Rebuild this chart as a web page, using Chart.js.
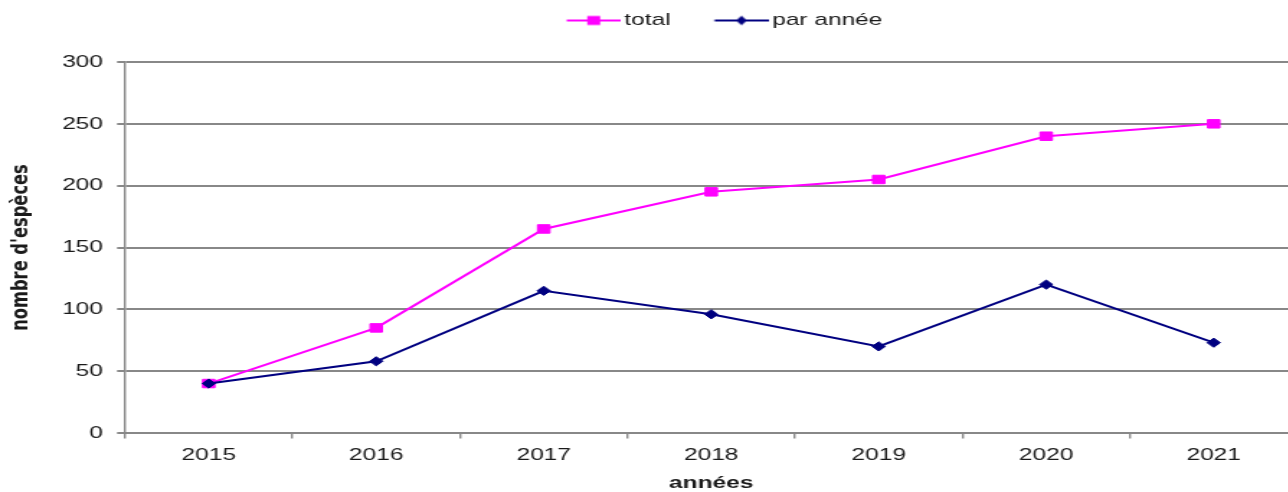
<!DOCTYPE html>
<html>
<head>
<meta charset="utf-8">
<script src="https://cdn.jsdelivr.net/npm/chart.js@4.4.0/dist/chart.umd.min.js"></script>
<style>
  html, body { margin: 0; padding: 0; background: #fff; overflow: hidden; }
  /* the source picture is stretched sideways, so the chart is drawn narrow and widened */
  #wrap { width: 901px; height: 492px; transform: scaleX(1.44); transform-origin: 0 0; }
</style>
</head>
<body>
<div id="wrap"><canvas id="myChart" width="901" height="492"></canvas></div>
<script>
var years = ['2015', '2016', '2017', '2018', '2019', '2020', '2021'];
var totalValues = [40, 85, 165, 195, 205, 240, 250];
var perYearValues = [40, 58, 115, 96, 70, 120, 73];
var yTicks = [0, 50, 100, 150, 200, 250, 300];

var seriesNames = ['total', 'par année'];
var seriesColors = ['#FF00FF', '#000080'];

var gray = '#888888';
var textColor = '#1a1a1a';
var family = "'Liberation Sans', Arial, sans-serif";

// legend sample: a short line with the marker in the middle
function legendIcon(color, shape) {
  var c = document.createElement('canvas');
  c.width = 62;
  c.height = 12;
  var g = c.getContext('2d');
  g.strokeStyle = color;
  g.lineWidth = 2;
  g.beginPath();
  g.moveTo(24.5, 6);
  g.lineTo(62, 6);
  g.stroke();
  g.fillStyle = color;
  var cx = 43.25, cy = 6;
  if (shape === 'square') {
    g.fillRect(cx - 4.5, cy - 4.5, 9, 9);
  } else {
    g.beginPath();
    g.moveTo(cx - 3.8, cy);
    g.lineTo(cx, cy - 4.8);
    g.lineTo(cx + 3.8, cy);
    g.lineTo(cx, cy + 4.8);
    g.closePath();
    g.fill();
  }
  return c;
}
var legendIcons = [legendIcon(seriesColors[0], 'square'), legendIcon(seriesColors[1], 'diamond')];

// give the legend the full band above the plot
var legendSpace = {
  id: 'legendSpace',
  beforeInit: function (chart) {
    var fit = chart.legend.fit;
    chart.legend.fit = function () {
      fit.call(this);
      this.height = 62;
    };
  }
};

var ctx = document.getElementById('myChart').getContext('2d');
var chart = new Chart(ctx, {
  type: 'line',
  data: {
    labels: years,
    datasets: [{
      label: seriesNames[0],
      data: totalValues,
      borderColor: seriesColors[0],
      backgroundColor: seriesColors[0],
      borderWidth: 2,
      pointStyle: 'rect',
      pointRadius: 6,
      pointBorderWidth: 1,
      order: 1
    }, {
      label: seriesNames[1],
      data: perYearValues,
      borderColor: seriesColors[1],
      backgroundColor: seriesColors[1],
      borderWidth: 2,
      pointStyle: 'rectRot',
      pointRadius: 4.6,
      pointBorderWidth: 1,
      order: 0
    }]
  },
  options: {
    responsive: false,
    animation: false,
    devicePixelRatio: 1,
    layout: { padding: 0, autoPadding: false },
    plugins: {
      legend: {
        position: 'top',
        fullSize: false,
        labels: {
          usePointStyle: true,
          pointStyleWidth: 50,
          padding: 12,
          color: textColor,
          font: { family: family, size: 17 },
          generateLabels: function (chart) {
            var items = Chart.defaults.plugins.legend.labels.generateLabels(chart);
            items.sort(function (a, b) { return a.datasetIndex - b.datasetIndex; });
            items.forEach(function (it) { it.pointStyle = legendIcons[it.datasetIndex]; });
            return items;
          }
        }
      },
      tooltip: { enabled: false }
    },
    scales: {
      x: {
        offset: true,
        grid: { offset: true, drawOnChartArea: false, drawTicks: true, tickLength: 5.5, color: gray, lineWidth: 1.4 },
        border: { color: gray, width: 2 },
        ticks: { padding: 6.8, color: textColor, font: { family: family, size: 17 } },
        title: {
          display: true,
          text: 'années',
          color: textColor,
          font: { family: family, size: 17, weight: 'bold', lineHeight: 1 },
          padding: 0
        },
        afterFit: function (scale) {
          scale.height = 59;
          scale.paddingLeft = 0;
          scale.paddingRight = 0;
        }
      },
      y: {
        min: yTicks[0],
        max: yTicks[yTicks.length - 1],
        ticks: { stepSize: yTicks[1] - yTicks[0], padding: 9.8, color: textColor, font: { family: family, size: 17 } },
        grid: { color: gray, lineWidth: 2, tickLength: 5.5 },
        border: { color: gray, width: 1.4 },
        title: {
          display: true,
          text: "nombre d'espèces",
          color: textColor,
          font: { family: "'DejaVu Sans', sans-serif", size: 16.3, weight: 'bold' },
          padding: { top: 5.2, bottom: 0 }
        },
        afterFit: function (scale) { scale.width = 86.8; }
      }
    }
  },
  plugins: [legendSpace]
});
</script>
</body>
</html>
